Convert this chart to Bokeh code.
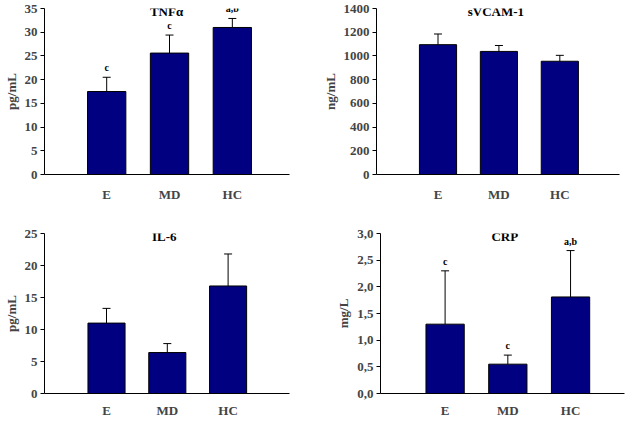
from bokeh.plotting import figure
from bokeh.models import (Range1d, FixedTicker, Whisker, TeeHead, ColumnDataSource,
                          Label, CustomJSTickFormatter)
from bokeh.layouts import column, row
from bokeh.embed import file_html
from bokeh.resources import INLINE

categories = ["E", "MD", "HC"]

tnf = [17.5, 25.6, 31.0]
tnf_err = [3.0, 3.8, 1.9]
tnf_letters = ["c", "c", "a,b"]

svcam = [1095, 1038, 955]
svcam_err = [90, 50, 50]
svcam_letters = ["", "", ""]

il6 = [11.0, 6.4, 16.8]
il6_err = [2.3, 1.4, 5.0]
il6_letters = ["", "", ""]

crp = [1.30, 0.55, 1.81]
crp_err = [1.00, 0.17, 0.87]
crp_letters = ["c", "c", "a,b"]

FONT = "Liberation Serif"
BAR = "#000080"


def panel(title, vals, errs, letters, ymax, step, ylabel, w, h, borders, xr, comma=False):
    bl, br, bt, bb = borders
    xs = list(range(1, len(categories) + 1))
    p = figure(width=w, height=h, output_backend="svg", toolbar_location=None,
               x_range=Range1d(*xr), y_range=Range1d(0, ymax),
               min_border_left=bl, min_border_right=br, min_border_top=bt, min_border_bottom=bb)
    p.outline_line_color = None
    p.xgrid.grid_line_color = None
    p.ygrid.grid_line_color = None
    src = ColumnDataSource(dict(x=xs, top=vals, lower=vals,
                                upper=[v + e for v, e in zip(vals, errs)]))
    p.vbar(x="x", top="top", width=0.61, source=src, fill_color=BAR, line_color="black", line_width=1)
    p.add_layout(Whisker(base="x", lower="lower", upper="upper", source=src,
                         lower_head=None, upper_head=TeeHead(size=8, line_color="black", line_width=1),
                         line_color="black", line_width=1))
    # axes
    ya = p.yaxis[0]
    ya.ticker = FixedTicker(ticks=[i * step for i in range(int(round(ymax / step)) + 1)])
    if comma:
        ya.formatter = CustomJSTickFormatter(code="return tick.toFixed(1).replace('.', ',');")
    ya.axis_label = ylabel
    ya.axis_label_text_font = FONT
    ya.axis_label_text_font_style = "bold"
    ya.axis_label_text_font_size = "13px"
    ya.axis_label_standoff = 3
    ya.major_label_text_font = FONT
    ya.major_label_text_font_style = "bold"
    ya.major_label_text_font_size = "13px"
    ya.major_label_standoff = 3
    ya.major_tick_out = 4
    ya.major_tick_in = 0
    ya.minor_tick_line_color = None
    ya.axis_line_color = "black"
    xa = p.xaxis[0]
    xa.ticker = FixedTicker(ticks=xs)
    xa.major_label_overrides = {x: c for x, c in zip(xs, categories)}
    xa.major_label_text_font = FONT
    xa.major_label_text_font_style = "bold"
    xa.major_label_text_font_size = "13px"
    xa.major_label_standoff = 6 if bb > 30 else 3
    xa.major_tick_line_color = None
    xa.minor_tick_line_color = None
    xa.axis_line_color = "black"
    # title inside frame
    p.add_layout(Label(x=2, y=ymax, text=title, text_align="center", text_baseline="middle",
                       y_offset=-3, x_offset=-3, text_font=FONT, text_font_style="bold",
                       text_font_size="13px", text_color="black"))
    for x, v, e, t in zip(xs, vals, errs, letters):
        if t:
            p.add_layout(Label(x=x, y=v + e, text=t, text_align="center", text_baseline="bottom",
                               y_offset=4, text_font=FONT, text_font_style="bold",
                               text_font_size="10px", text_color="black"))
    return p


p1 = panel("TNF\u03b1", tnf, tnf_err, tnf_letters, 35, 5, "pg/mL", 312, 210,
           (39, 23, 8, 36), (0.01, 3.91))
p2 = panel("sVCAM-1", svcam, svcam_err, svcam_letters, 1400, 200, "ng/mL", 313, 210,
           (64, 6, 8, 36), (-0.01, 3.98))
p3 = panel("IL-6", il6, il6_err, il6_letters, 25, 5, "pg/mL", 312, 210,
           (34, 23, 23, 19), (-0.02, 4.01))
p4 = panel("CRP", crp, crp_err, crp_letters, 3.0, 0.5, "mg/L", 313, 210,
           (68, 1, 23, 19), (-0.03, 3.86), comma=True)

layout = column(row(p1, p2), row(p3, p4))
open("out.html", "w").write(file_html(layout, INLINE))
